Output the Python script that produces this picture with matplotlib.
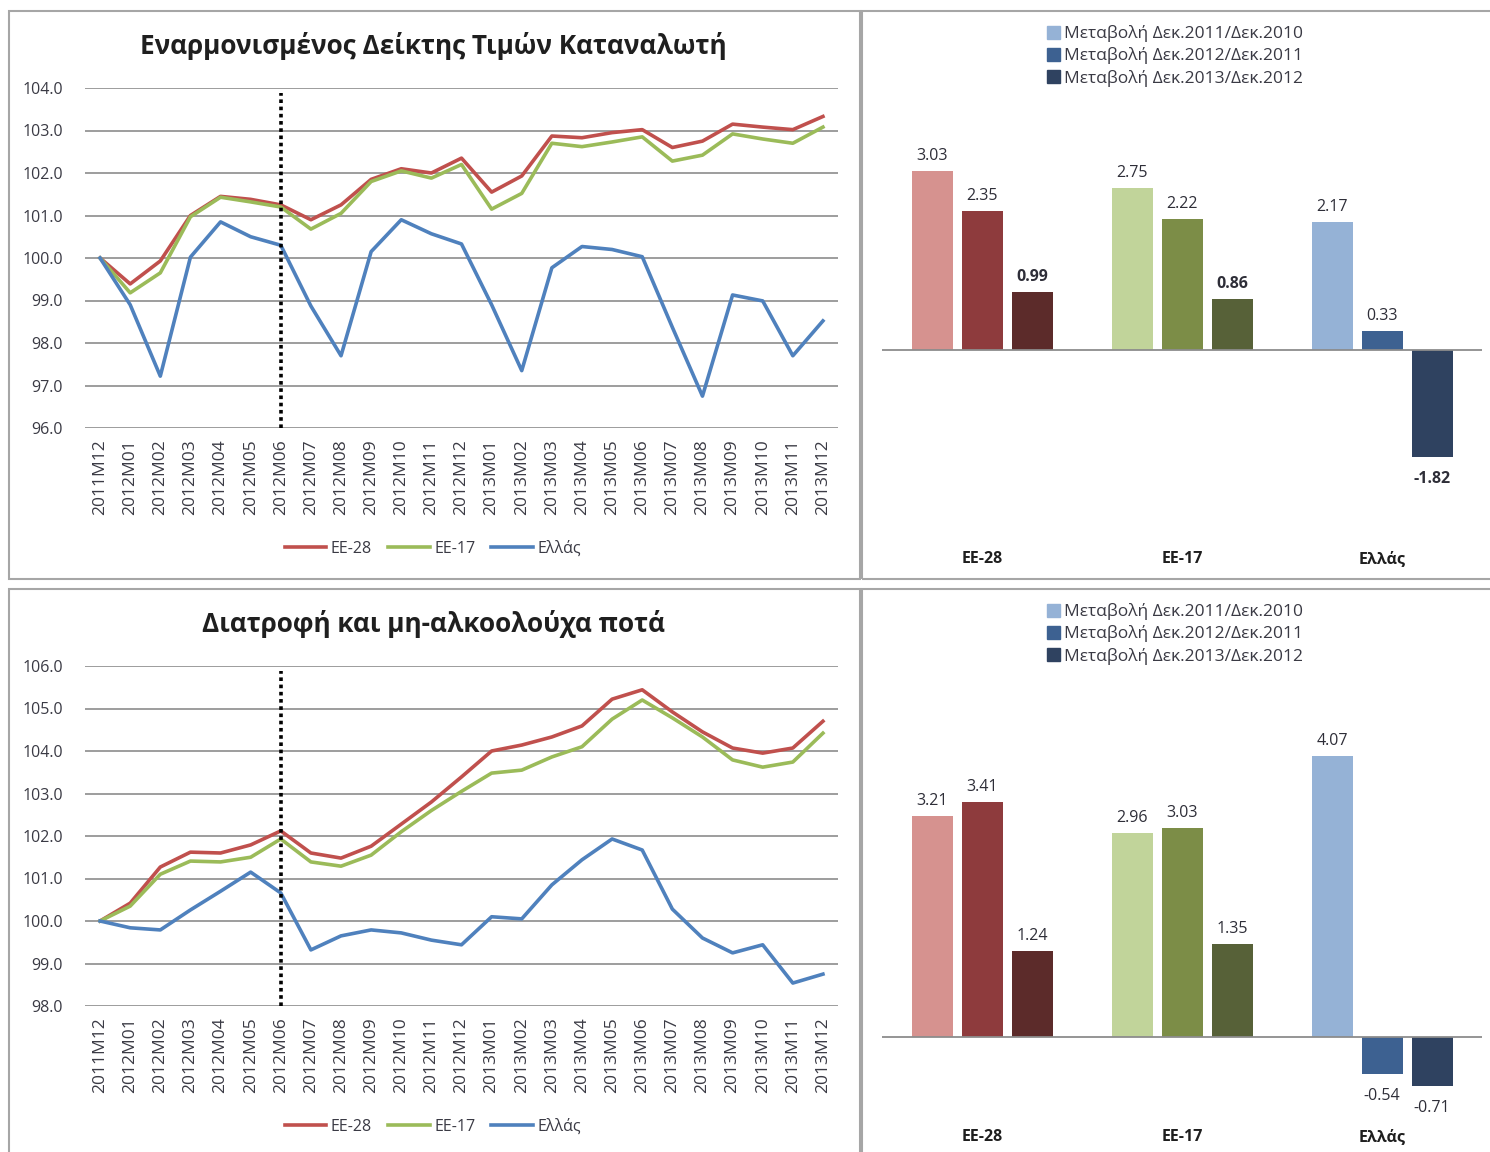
import matplotlib
matplotlib.use("Agg")
import matplotlib.pyplot as plt
from matplotlib.patches import Rectangle, Patch

plt.rcParams['font.family'] = ['Open Sans', 'DejaVu Sans']

# --- data ---
months = ["2011M12"] + [f"2012M{m:02d}" for m in range(1, 13)] + [f"2013M{m:02d}" for m in range(1, 13)]

hicp_ee28 = [100.0, 99.39, 99.93, 101.0, 101.45, 101.38, 101.25, 100.9, 101.25, 101.85, 102.1, 102.0, 102.35,
             101.55, 101.93, 102.87, 102.83, 102.95, 103.02, 102.6, 102.75, 103.15, 103.08, 103.02, 103.33]
hicp_ee17 = [100.0, 99.18, 99.65, 100.97, 101.43, 101.32, 101.2, 100.68, 101.05, 101.8, 102.05, 101.88, 102.2,
             101.15, 101.52, 102.7, 102.62, 102.73, 102.85, 102.28, 102.42, 102.92, 102.8, 102.7, 103.08]
hicp_gr = [100.0, 98.9, 97.22, 100.02, 100.85, 100.5, 100.3, 98.87, 97.7, 100.15, 100.9, 100.57, 100.33,
           98.9, 97.35, 99.77, 100.27, 100.2, 100.03, 98.37, 96.75, 99.13, 98.99, 97.7, 98.52]

food_ee28 = [100.0, 100.42, 101.27, 101.62, 101.6, 101.79, 102.12, 101.6, 101.48, 101.76, 102.28, 102.8, 103.39,
             104.0, 104.14, 104.33, 104.59, 105.22, 105.44, 104.92, 104.45, 104.07, 103.95, 104.07, 104.7]
food_ee17 = [100.0, 100.35, 101.1, 101.41, 101.39, 101.5, 101.93, 101.39, 101.29, 101.55, 102.1, 102.6, 103.05,
             103.48, 103.55, 103.86, 104.1, 104.75, 105.2, 104.78, 104.33, 103.79, 103.62, 103.74, 104.42]
food_gr = [100.0, 99.84, 99.79, 100.26, 100.7, 101.15, 100.66, 99.32, 99.65, 99.79, 99.72, 99.55, 99.44,
           100.1, 100.05, 100.85, 101.44, 101.93, 101.67, 100.28, 99.6, 99.25, 99.44, 98.54, 98.75]

line_names = ["ΕΕ-28", "ΕΕ-17", "Ελλάς"]
line_colors = ["#C0504D", "#9BBB59", "#4F81BD"]

groups = ["ΕΕ-28", "ΕΕ-17", "Ελλάς"]
periods = ["Μεταβολή Δεκ.2011/Δεκ.2010", "Μεταβολή Δεκ.2012/Δεκ.2011", "Μεταβολή Δεκ.2013/Δεκ.2012"]
# rows = groups, columns = periods
hicp_changes = [[3.03, 2.35, 0.99], [2.75, 2.22, 0.86], [2.17, 0.33, -1.82]]
food_changes = [[3.21, 3.41, 1.24], [2.96, 3.03, 1.35], [4.07, -0.54, -0.71]]
hicp_bold = [[False, False, True], [False, False, True], [False, False, True]]
food_bold = [[False] * 3] * 3

bar_colors = [["#D6928F", "#8E3B3D", "#5C2B2A"],
              ["#C1D49A", "#7C8D47", "#576138"],
              ["#95B2D6", "#3D6191", "#2F4260"]]

W, H = 1490, 1152
fig = plt.figure(figsize=(W / 100, H / 100), dpi=100)


def px_axes(x0, y0, x1, y1):
    return fig.add_axes([x0 / W, 1 - y1 / H, (x1 - x0) / W, (y1 - y0) / H])


# panel borders
for (x0, y0, x1, y1) in [(9, 11, 860, 579), (862, 11, 1500, 579), (9, 589, 860, 1160), (862, 589, 1500, 1160)]:
    fig.patches.append(Rectangle((x0 / W, 1 - y1 / H), (x1 - x0) / W, (y1 - y0) / H,
                                 transform=fig.transFigure, fill=False, edgecolor="#A6A6A6", lw=1.5))


def line_panel(box, title, title_y, series, ylo, legend_y):
    ax = px_axes(*box)
    x = range(len(months))
    for vals, name, c in zip(series, line_names, line_colors):
        ax.plot(x, vals, color=c, lw=2.6, label=name, zorder=3)
    ax.vlines(6, ylo, ylo + 7.88, colors="black", linestyles=(0, (1, 1)), lw=2.6, zorder=4)
    ax.set_xlim(-0.5, len(months) - 0.5)
    ax.set_ylim(ylo, ylo + 8)
    ax.set_yticks([ylo + i for i in range(9)])
    ax.set_yticklabels([f"{ylo + i:.1f}" for i in range(9)])
    ax.grid(axis="y", color="#8C8C8C", lw=1.2)
    ax.set_axisbelow(True)
    for s in ax.spines.values():
        s.set_visible(False)
    ax.set_xticks(list(x))
    ax.set_xticklabels(months, rotation=90)
    ax.tick_params(axis="both", length=0, labelsize=11.5, labelcolor="#3A3A44")
    ax.tick_params(axis="x", labelsize=12.5, pad=8)
    ax.tick_params(axis="y", pad=16)
    fig.text(433 / W, 1 - title_y / H, title, ha="center", va="center", fontsize=18.8,
             fontweight="bold", color="#1F1F1F")
    ax.legend(loc="center", bbox_to_anchor=(433 / W, 1 - legend_y / H), bbox_transform=fig.transFigure,
              ncol=3, frameon=False, fontsize=11.5, handlelength=2.6, handletextpad=0.3,
              columnspacing=1.0, labelcolor="#3A3A44")
    return ax


def bar_panel(box, changes, bold, zero_y, scale, legend_y):
    x0, y0, x1, y1 = box
    ax = px_axes(*box)
    ax.set_xlim(-0.5, 2.5)
    ax.set_ylim(-(y1 - zero_y) / scale, (zero_y - y0) / scale)
    offsets = [-0.25, 0.0, 0.25]
    for gi in range(len(groups)):
        for pi in range(len(periods)):
            v = changes[gi][pi]
            xp = gi + offsets[pi]
            ax.bar(xp, v, width=0.205, color=bar_colors[gi][pi], zorder=2)
            ax.annotate(f"{v:.2f}", (xp, v), xytext=(0, 5 if v >= 0 else -10), textcoords="offset points",
                        ha="center", va="bottom" if v >= 0 else "top", fontsize=11.5,
                        fontweight="bold" if bold[gi][pi] else "normal", color="#2E2E38")
    ax.axhline(0, color="#8C8C8C", lw=1.3, zorder=3)
    for s in ax.spines.values():
        s.set_visible(False)
    ax.set_yticks([])
    ax.set_xticks(range(len(groups)))
    ax.set_xticklabels(groups, fontweight="bold", fontsize=11.5, color="#1F1F1F")
    ax.tick_params(axis="x", length=0, pad=8)
    handles = [Patch(color=bar_colors[2][pi]) for pi in range(len(periods))]
    ax.legend(handles, periods, loc="center", bbox_to_anchor=(1175 / W, 1 - legend_y / H),
              bbox_transform=fig.transFigure, frameon=False, fontsize=12.5, handlelength=0.75,
              handleheight=0.75, handletextpad=0.2, labelspacing=0.3, labelcolor="#3A3A44")
    return ax


line_panel((85, 88, 838, 428), "Εναρμονισμένος Δείκτης Τιμών Καταναλωτή", 46,
           [hicp_ee28, hicp_ee17, hicp_gr], 96.0, 549)
line_panel((85, 666, 838, 1006), "Διατροφή και μη-αλκοολούχα ποτά", 624,
           [food_ee28, food_ee17, food_gr], 98.0, 1127)

bar_panel((882, 120, 1482, 540), hicp_changes, hicp_bold, 350, 59.0, 56)
bar_panel((882, 700, 1482, 1118), food_changes, food_bold, 1037, 69.0, 634)

fig.savefig("out.png", dpi=100)
